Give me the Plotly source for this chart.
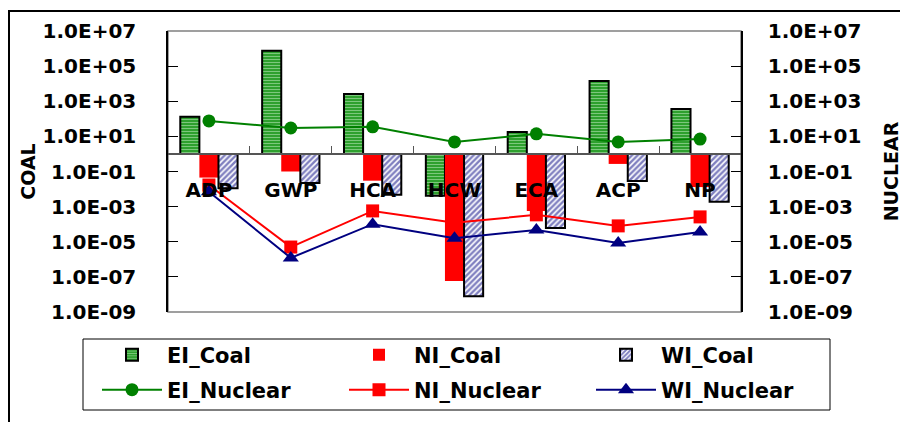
import plotly.graph_objects as go

categories = ["ADP", "GWP", "HCA", "HCW", "ECA", "ACP", "NP"]

# Coal (left axis) - bars rising/falling from 1.0
ei_coal = [130, 7.4e5, 2600, 0.0042, 18, 1.4e4, 365]
ni_coal = [0.045, 0.1, 0.03, 5.9e-8, 5.6e-4, 0.27, 0.013]
wi_coal = [0.011, 0.022, 0.0047, 8e-9, 6e-5, 0.029, 0.0019]

# Nuclear (right axis) - lines
ei_nuclear = [76, 30, 35, 4.8, 14, 4.8, 7]
ni_nuclear = [0.017, 5e-6, 5.7e-4, 1.2e-4, 3.4e-4, 8e-5, 2.6e-4]
wi_nuclear = [0.007, 1.2e-6, 1e-4, 1.6e-5, 4.7e-5, 8.5e-6, 3.6e-5]

tick_vals = [1e7, 1e5, 1e3, 1e1, 1e-1, 1e-3, 1e-5, 1e-7, 1e-9]
tick_text = ["1.0E+07", "1.0E+05", "1.0E+03", "1.0E+01", "1.0E-01",
             "1.0E-03", "1.0E-05", "1.0E-07", "1.0E-09"]

BASE = 1.0
FONT = "DejaVu Sans"

# page has an 8px body margin; figure coords = page coords - 8
OFF = 8
W, H = 908 - OFF, 422 - OFF
L, T = 168 - OFF, 31 - OFF
PW, PH = 741 - 168, 312 - 31
R, B = W - L - PW, H - T - PH


def px_x(p):  # page pixel -> paper x
    return (p - OFF - L) / PW


def px_y(p):  # page pixel -> paper y
    return (T + PH - (p - OFF)) / PH


fig = go.Figure()

fig.add_trace(go.Bar(
    name="EI_Coal", x=categories, y=[v - BASE for v in ei_coal], base=BASE,
    marker=dict(color="#2ea02e", line=dict(color="black", width=2),
                pattern=dict(shape="-", fgcolor="#dcf7dc", bgcolor="#2ea02e",
                             size=3, solidity=0.3)),
    legend="legend"))
fig.add_trace(go.Bar(
    name="NI_Coal", x=categories, y=[v - BASE for v in ni_coal], base=BASE,
    marker=dict(color="#ff0000", line=dict(width=0)),
    legend="legend"))
fig.add_trace(go.Bar(
    name="WI_Coal", x=categories, y=[v - BASE for v in wi_coal], base=BASE,
    marker=dict(color="white", line=dict(color="black", width=2),
                pattern=dict(shape="/", fgcolor="#000080", bgcolor="white",
                             size=4, solidity=0.6)),
    legend="legend"))

fig.add_trace(go.Scatter(
    name="EI_Nuclear", x=categories, y=ei_nuclear, yaxis="y2",
    mode="lines+markers", line=dict(color="#008000", width=2),
    marker=dict(symbol="circle", size=13, color="#008000"),
    legend="legend2"))
fig.add_trace(go.Scatter(
    name="NI_Nuclear", x=categories, y=ni_nuclear, yaxis="y2",
    mode="lines+markers", line=dict(color="#ff0000", width=2),
    marker=dict(symbol="square", size=13, color="#ff0000"),
    legend="legend2"))
fig.add_trace(go.Scatter(
    name="WI_Nuclear", x=categories, y=wi_nuclear, yaxis="y2",
    mode="lines+markers", line=dict(color="#000080", width=2),
    marker=dict(symbol="triangle-up", size=14, color="#000080"),
    legend="legend2"))

axis_font = dict(family=FONT, size=20, color="black", weight="bold")
title_font = dict(family=FONT, size=19, color="black", weight="bold")

yaxis_common = dict(
    type="log", range=[-9, 7], tickvals=tick_vals, ticktext=tick_text,
    showline=True, linecolor="black", linewidth=1.5,
    ticks="inside", ticklen=10, tickcolor="black", tickwidth=1,
    showgrid=False, zeroline=False, tickfont=axis_font,
)

legend_common = dict(
    orientation="h", xanchor="right", yanchor="middle",
    x=px_x(838), entrywidth=172, entrywidthmode="pixels", itemwidth=60,
    font=dict(family=FONT, size=21, color="black", weight="bold"),
    bgcolor="rgba(0,0,0,0)", borderwidth=0,
)

fig.update_layout(
    width=W, height=H,
    margin=dict(l=L, r=R, t=T, b=B, autoexpand=False),
    paper_bgcolor="white", plot_bgcolor="white",
    barmode="group", bargap=0.3, bargroupgap=0,
    font=dict(family=FONT, color="black"),
    xaxis=dict(
        type="category", range=[-0.5, 6.5], anchor="free", position=9 / 16,
        showline=True, linecolor="#555555", linewidth=1.5,
        ticks="inside", tickson="boundaries", ticklen=7, tickcolor="#555555",
        tickfont=dict(family=FONT, size=20, color="black", weight="bold"),
        ticklabelstandoff=18, showgrid=False,
    ),
    yaxis=dict(
        **yaxis_common, side="left", ticklabelstandoff=26,
        title=dict(text="COAL", standoff=2, font=title_font),
    ),
    yaxis2=dict(
        **yaxis_common, side="right", overlaying="y", anchor="x",
        ticklabelstandoff=21,
        title=dict(text="NUCLEAR", standoff=24, font=title_font),
    ),
    legend=dict(**legend_common, y=px_y(355)),
    legend2=dict(**legend_common, y=px_y(390)),
    showlegend=True,
    shapes=[
        # plot-area frame
        dict(type="rect", xref="paper", yref="paper", x0=0, x1=1, y0=0, y1=1,
             line=dict(color="#808080", width=1.5), layer="below"),
        # legend box
        dict(type="rect", xref="paper", yref="paper",
             x0=px_x(83), x1=px_x(830), y0=px_y(410), y1=px_y(339),
             line=dict(color="black", width=1), layer="below"),
        # outer chart border
        dict(type="rect", xref="paper", yref="paper",
             x0=px_x(9), x1=px_x(940), y0=px_y(460), y1=px_y(11),
             line=dict(color="black", width=2), layer="below"),
    ],
)

fig.write_html("out.html")
